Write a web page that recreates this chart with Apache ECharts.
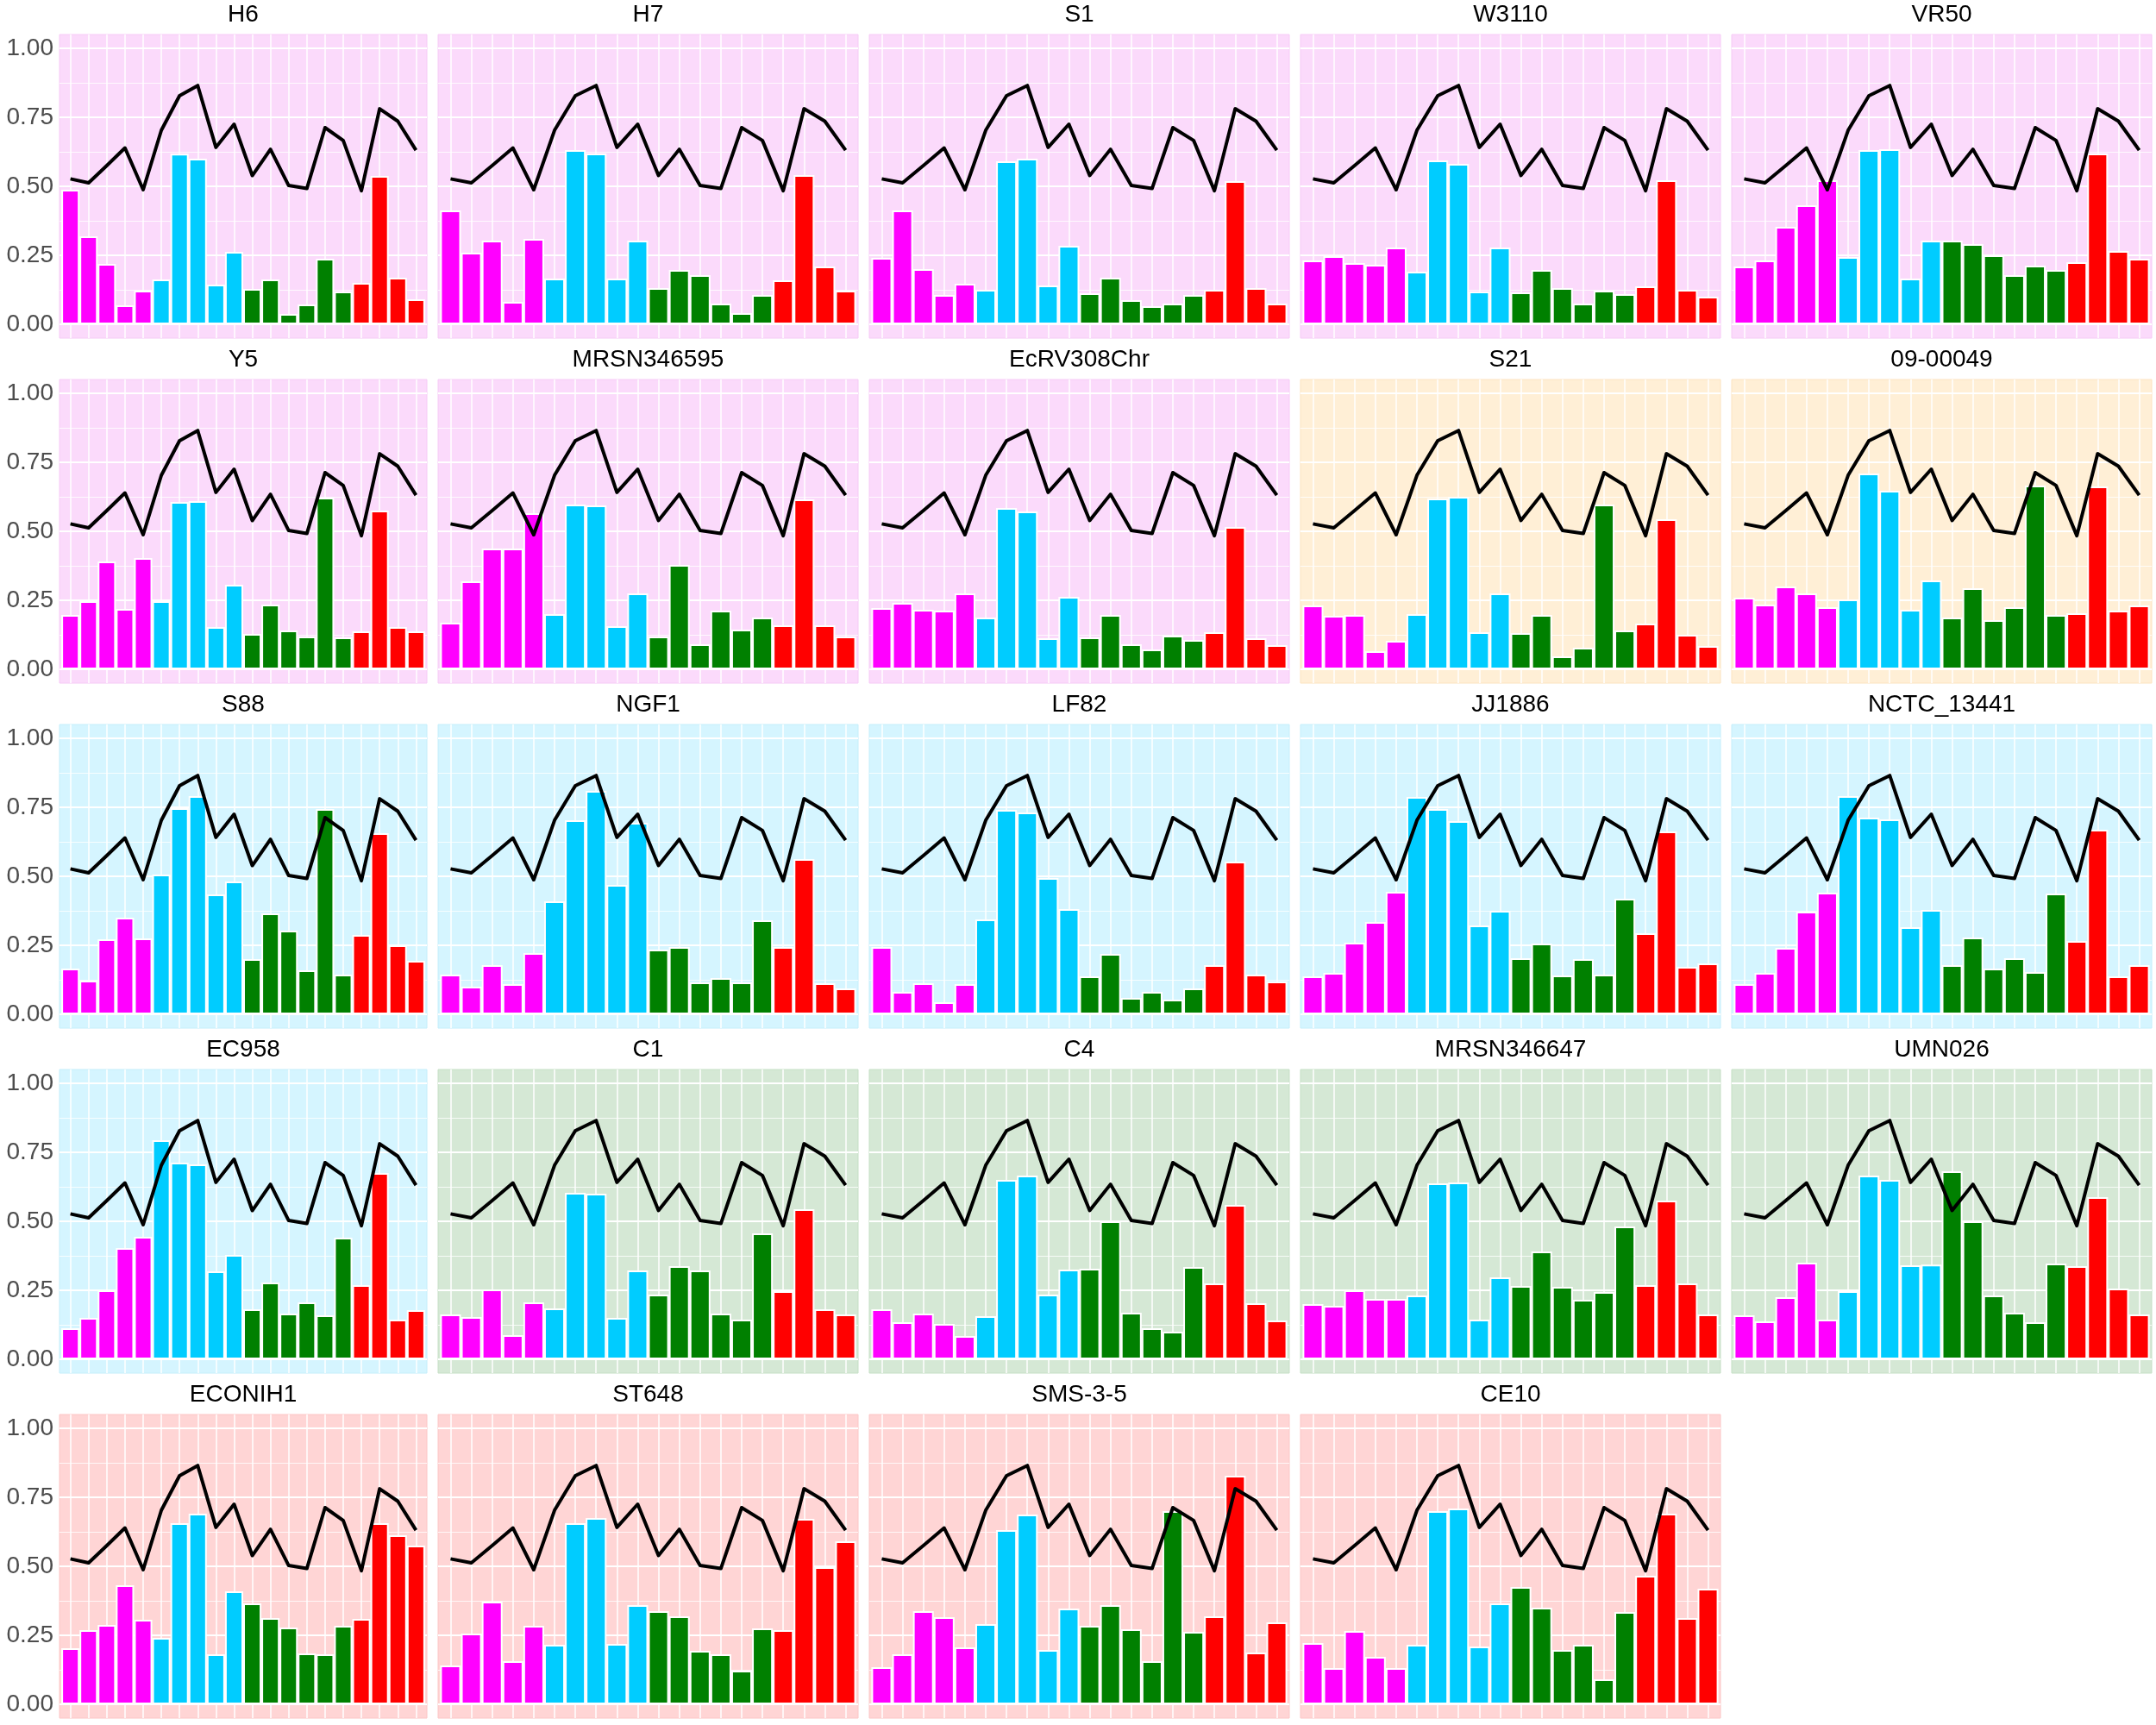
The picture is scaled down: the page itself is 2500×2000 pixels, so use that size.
<!DOCTYPE html>
<html><head><meta charset="utf-8">
<script src="https://cdn.jsdelivr.net/npm/echarts@6/dist/echarts.min.js"></script>
<style>html,body{margin:0;padding:0;background:#fff}#c{width:2500px;height:2000px}</style>
</head><body><div id="c"></div>
<script>
// ---------------- data ----------------
const categories = [1,2,3,4,5,6,7,8,9,10,11,12,13,14,15,16,17,18,19,20];
const lineValues = [0.527,0.5125,0.575,0.639,0.4875,0.703,0.828,0.865,0.641,0.725,0.539,0.634,0.503,0.492,0.7125,0.666,0.484,0.781,0.736,0.631];
const barGroupSizes = [5,5,6,4];
const yTickValues = [0,0.25,0.5,0.75,1];
const yMinorValues = [0.125,0.375,0.625,0.875];
const panelNames = ['H6','H7','S1','W3110','VR50','Y5','MRSN346595','EcRV308Chr','S21','09-00049','S88','NGF1','LF82','JJ1886','NCTC_13441','EC958','C1','C4','MRSN346647','UMN026','ECONIH1','ST648','SMS-3-5','CE10'];
const panelClass = ['pink','pink','pink','pink','pink','pink','pink','pink','orange','orange','cyan','cyan','cyan','cyan','cyan','cyan','green','green','green','green','red','red','red','red'];

const v_H6 = [0.4875,0.319,0.219,0.069,0.122, 0.1625,0.618,0.600,0.144,0.2625, 0.128,0.1625,0.0375,0.072,0.2375,0.119, 0.15,0.5375,0.169,0.091];
const v_H7 = [0.4125,0.259,0.303,0.081,0.309, 0.166,0.631,0.619,0.166,0.303, 0.131,0.197,0.178,0.075,0.041,0.106, 0.159,0.541,0.209,0.122];
const v_S1 = [0.241,0.4125,0.2,0.106,0.147, 0.125,0.591,0.6,0.141,0.284, 0.1125,0.169,0.0875,0.066,0.075,0.106, 0.125,0.519,0.131,0.075];
const v_W3110 = [0.231,0.247,0.222,0.216,0.278, 0.191,0.594,0.581,0.119,0.278, 0.116,0.197,0.131,0.075,0.122,0.109, 0.1375,0.522,0.125,0.1];
const v_VR50 = [0.209,0.231,0.353,0.431,0.522, 0.244,0.631,0.634,0.166,0.303, 0.303,0.291,0.25,0.178,0.2125,0.197, 0.225,0.619,0.266,0.2375];
const v_Y5 = [0.197,0.247,0.391,0.219,0.403, 0.247,0.606,0.609,0.153,0.306, 0.128,0.234,0.141,0.119,0.622,0.116, 0.1375,0.575,0.153,0.1375];
const v_MRSN346595 = [0.169,0.319,0.4375,0.4375,0.566, 0.2,0.597,0.594,0.156,0.275, 0.119,0.378,0.091,0.2125,0.144,0.1875, 0.159,0.616,0.159,0.119];
const v_EcRV308Chr = [0.222,0.241,0.216,0.2125,0.275, 0.1875,0.584,0.572,0.1125,0.2625, 0.116,0.197,0.091,0.072,0.122,0.106, 0.134,0.516,0.1125,0.0875];
const v_S21 = [0.231,0.194,0.197,0.066,0.103, 0.2,0.619,0.625,0.134,0.275, 0.131,0.197,0.047,0.078,0.597,0.141, 0.166,0.544,0.125,0.084];
const v_0900049 = [0.259,0.234,0.3,0.275,0.225, 0.253,0.709,0.647,0.216,0.322, 0.1875,0.294,0.178,0.225,0.666,0.197, 0.203,0.6625,0.2125,0.231];
const v_S88 = [0.166,0.122,0.272,0.35,0.275, 0.506,0.747,0.791,0.434,0.481, 0.2,0.366,0.303,0.159,0.744,0.144, 0.2875,0.656,0.25,0.194];
const v_NGF1 = [0.144,0.1,0.178,0.109,0.222, 0.409,0.703,0.809,0.469,0.694, 0.234,0.244,0.116,0.131,0.116,0.341, 0.244,0.5625,0.1125,0.094];
const v_LF82 = [0.244,0.081,0.1125,0.044,0.109, 0.344,0.741,0.731,0.494,0.381, 0.1375,0.219,0.059,0.081,0.053,0.094, 0.178,0.553,0.144,0.119];
const v_JJ1886 = [0.1375,0.15,0.259,0.334,0.444, 0.7875,0.744,0.7,0.322,0.375, 0.203,0.256,0.141,0.2,0.144,0.419, 0.294,0.6625,0.172,0.184];
const v_NCTC_13441 = [0.109,0.15,0.241,0.372,0.441, 0.791,0.7125,0.706,0.316,0.378, 0.178,0.278,0.166,0.203,0.153,0.4375, 0.266,0.669,0.1375,0.178];
const v_EC958 = [0.1125,0.15,0.25,0.403,0.444, 0.794,0.7125,0.706,0.319,0.378, 0.181,0.278,0.166,0.206,0.159,0.441, 0.269,0.675,0.144,0.178];
const v_C1 = [0.1625,0.153,0.253,0.0875,0.206, 0.184,0.603,0.6,0.15,0.322, 0.234,0.3375,0.322,0.166,0.144,0.456, 0.247,0.544,0.181,0.1625];
const v_C4 = [0.181,0.134,0.166,0.128,0.084, 0.156,0.65,0.666,0.234,0.325, 0.328,0.5,0.169,0.1125,0.1,0.334, 0.275,0.559,0.203,0.141];
const v_MRSN346647 = [0.2,0.194,0.25,0.219,0.219, 0.231,0.6375,0.641,0.144,0.297, 0.266,0.391,0.2625,0.216,0.244,0.481, 0.269,0.575,0.275,0.1625];
const v_UMN026 = [0.159,0.1375,0.225,0.35,0.144, 0.247,0.666,0.65,0.341,0.343, 0.681,0.5,0.231,0.169,0.134,0.347, 0.3375,0.5875,0.256,0.1625];
const v_ECONIH1 = [0.203,0.269,0.2875,0.431,0.306, 0.241,0.656,0.691,0.181,0.409, 0.366,0.3125,0.278,0.184,0.181,0.284, 0.309,0.656,0.6125,0.575];
const v_ST648 = [0.141,0.256,0.372,0.156,0.284, 0.216,0.656,0.675,0.219,0.359, 0.3375,0.319,0.194,0.181,0.122,0.275, 0.269,0.672,0.497,0.591];
const v_SMS35 = [0.134,0.181,0.3375,0.316,0.206, 0.291,0.631,0.6875,0.197,0.347, 0.284,0.359,0.272,0.156,0.7,0.2625, 0.319,0.828,0.1875,0.297];
const v_CE10 = [0.222,0.131,0.266,0.172,0.131, 0.216,0.7,0.709,0.209,0.366, 0.425,0.35,0.197,0.216,0.091,0.334, 0.466,0.691,0.3125,0.419];

const panelValues = [v_H6,v_H7,v_S1,v_W3110,v_VR50,v_Y5,v_MRSN346595,v_EcRV308Chr,v_S21,v_0900049,
  v_S88,v_NGF1,v_LF82,v_JJ1886,v_NCTC_13441,v_EC958,v_C1,v_C4,v_MRSN346647,v_UMN026,
  v_ECONIH1,v_ST648,v_SMS35,v_CE10];

// ---------------- style ----------------
const BAR_COLORS = ['#FF00FF','#00CCFF','#008000','#FF0000'];
const BG = {
  pink:   {fill:'#FBDAFB', edge:'#F6CAF6'},
  orange: {fill:'#FFEFD6', edge:'#FCE3C0'},
  cyan:   {fill:'#D5F5FF', edge:'#C4EEFB'},
  green:  {fill:'#D5E8D5', edge:'#C5DFC5'},
  red:    {fill:'#FFD5D5', edge:'#FCC6C6'}
};
const FONT = "'Liberation Sans', Arial, Helvetica, sans-serif";

function colorForIndex(i){
  let acc = 0;
  for (let g = 0; g < barGroupSizes.length; g++){
    acc += barGroupSizes[g];
    if (i < acc) return BAR_COLORS[g];
  }
  return BAR_COLORS[BAR_COLORS.length-1];
}

const grids = [], xAxes = [], yAxes = [], series = [], texts = [];
panelNames.forEach((name, p) => {
  const r = Math.floor(p/5), c = p % 5;
  const left = c === 0 ? 69 : 500*c + 8;
  const right = 500*c + 495;
  const top = 400*r + 40;
  const height = 352;
  const width = right - left;
  const sp = width / 20.2;
  const bg = BG[panelClass[p]];
  grids.push({left, top, width, height, containLabel:false, show:true,
    backgroundColor: bg.fill, borderColor: bg.edge, borderWidth: 1});
  xAxes.push({gridIndex:p, type:'value', min:0.4, max:20.6,
    axisLine:{show:false}, axisTick:{show:false, customValues: categories},
    axisLabel:{show:false},
    splitLine:{show:true, lineStyle:{color:'#FFFFFF', width:1.5}}});
  yAxes.push({gridIndex:p, type:'value', min:-0.05, max:1.05, position:'left',
    axisLine:{show:false}, axisTick:{show:false, customValues: yTickValues},
    axisLabel:{show: c === 0, customValues: yTickValues, formatter: v => Number(v).toFixed(2),
      fontSize:28, color:'#4D4D4D', fontFamily: FONT, margin:7},
    splitLine:{show:true, lineStyle:{color:'#FFFFFF', width:2}}});
  yAxes.push({gridIndex:p, type:'value', min:-0.05, max:1.05, position:'right',
    axisLine:{show:false}, axisTick:{show:false, customValues: yMinorValues},
    axisLabel:{show:false},
    splitLine:{show:true, lineStyle:{color:'#FFFFFF', width:1, opacity:0.8}}});
  const yIdx = yAxes.length - 2;
  series.push({type:'bar', xAxisIndex:p, yAxisIndex:yIdx, barWidth: sp, z:2,
    data: panelValues[p].map((v,i) => ({value:[categories[i], v],
      itemStyle:{color: colorForIndex(i), borderColor:'#FFFFFF', borderWidth:2}}))});
  series.push({type:'line', xAxisIndex:p, yAxisIndex:yIdx, symbol:'none', z:3,
    lineStyle:{color:'#000000', width:4, join:'round'},
    data: lineValues.map((v,i) => [categories[i], v])});
  texts.push({type:'text', x: left + width/2, y: 400*r + 17,
    style:{text:name, textAlign:'center', textVerticalAlign:'middle',
      font: '28px ' + FONT, fill:'#000000'}});
});

const chart = echarts.init(document.getElementById('c'), null, {renderer:'canvas'});
chart.setOption({
  animation:false,
  backgroundColor:'#FFFFFF',
  grid: grids, xAxis: xAxes, yAxis: yAxes, series: series,
  graphic: {elements: texts}
});
</script>
</body></html>
